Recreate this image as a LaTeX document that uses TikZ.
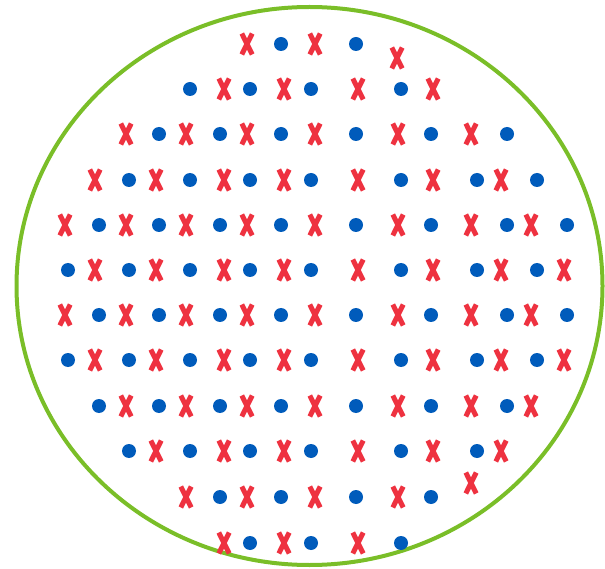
\documentclass[tikz,border=0pt]{standalone}
\definecolor{ringgreen}{RGB}{122,190,40}
\definecolor{dotblue}{RGB}{0,91,187}
\definecolor{crossred}{RGB}{238,50,64}
\usetikzlibrary{positioning}
\tikzset{
  crossmark/.pic={\draw[crossred, line width=5pt] (-5.2,-10.5) -- (5.2,10.5) (-5.2,10.5) -- (5.2,-10.5);},
  dotmark/.style={fill=dotblue}
}

\begin{document}
\begin{tikzpicture}[x=1pt, y=-1pt]
  \useasboundingbox (0,0) rectangle (605,569);

  % Outer ring
  \draw[ringgreen, line width=4pt] (309.5,286) ellipse [x radius=293pt, y radius=279pt];

  % Row 1
  \foreach \x in {247,315} \pic at (\x,44) {crossmark};
  \pic at (397,58) {crossmark};
  \foreach \x in {281,356} \fill[dotmark] (\x,44) circle (7pt);

  % Row 2
  \foreach \x in {224,284,358,433} \pic at (\x,89) {crossmark};
  \foreach \x in {190,250,311,401} \fill[dotmark] (\x,89) circle (7pt);

  % Row 3
  \foreach \x in {126,186,247,315,398,471} \pic at (\x,134) {crossmark};
  \foreach \x in {159,220,281,356,431,507} \fill[dotmark] (\x,134) circle (7pt);

  % Row 4
  \foreach \x in {95,156,224,284,358,433,501} \pic at (\x,180) {crossmark};
  \foreach \x in {129,190,250,311,401,477,537} \fill[dotmark] (\x,180) circle (7pt);

  % Rows 5 and 7
  \foreach \y in {225,315} {
    \foreach \x in {65,126,186,247,315,398,471,531} \pic at (\x,\y) {crossmark};
    \foreach \x in {99,159,220,281,356,431,507,567} \fill[dotmark] (\x,\y) circle (7pt);
  }

  % Rows 6 and 8
  \foreach \y in {270,360} {
    \foreach \x in {95,156,224,284,358,433,501,564} \pic at (\x,\y) {crossmark};
    \foreach \x in {68,129,190,250,311,401,477,537} \fill[dotmark] (\x,\y) circle (7pt);
  }

  % Row 9
  \foreach \x in {126,186,247,315,398,471,531} \pic at (\x,406) {crossmark};
  \foreach \x in {99,159,220,281,356,431,507} \fill[dotmark] (\x,406) circle (7pt);

  % Row 10
  \foreach \x in {156,224,284,358,433,501} \pic at (\x,451) {crossmark};
  \foreach \x in {129,190,250,311,401,477} \fill[dotmark] (\x,451) circle (7pt);

  % Row 11
  \foreach \x in {186,247,315,398} \pic at (\x,497) {crossmark};
  \pic at (471,483) {crossmark};
  \foreach \x in {220,281,356,431} \fill[dotmark] (\x,497) circle (7pt);

  % Row 12
  \foreach \x in {224,284,358} \pic at (\x,543) {crossmark};
  \foreach \x in {250,311,401} \fill[dotmark] (\x,543) circle (7pt);
\end{tikzpicture}
\end{document}
